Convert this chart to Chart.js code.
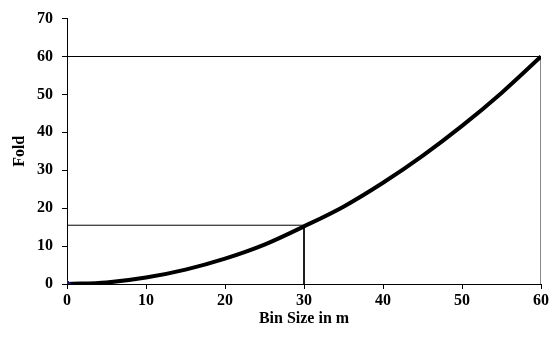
<!DOCTYPE html>
<html>
<head>
<meta charset="utf-8">
<script src="https://cdn.jsdelivr.net/npm/chart.js@4/dist/chart.umd.min.js"></script>
<style>
  html, body { margin: 0; padding: 0; background: #fff; }
  #wrap { width: 551px; height: 347px; }
</style>
</head>
<body>
<div id="wrap"><canvas id="grafico" width="551" height="347"></canvas></div>
<script>
  // valores
  const binSize = [0, 5, 10, 15, 20, 25, 30, 35, 40, 45, 50, 55, 60];
  const fold = [0, 0.4, 1.7, 3.8, 6.7, 10.4, 15.2, 20.4, 26.7, 33.8, 41.7, 50.4, 60];
  const xTicks = [0, 10, 20, 30, 40, 50, 60];
  const yTicks = [0, 10, 20, 30, 40, 50, 60, 70];
  // líneas de referencia
  const marcaAlta = { x: 60, y: 60 };
  const marcaMedia = { x: 30, y: 15.5 };

  const fuente = { family: "'Liberation Serif', 'Times New Roman', serif", size: 16, weight: "bold" };

  const ctx = document.getElementById("grafico").getContext("2d");

  new Chart(ctx, {
    type: "line",
    data: {
      datasets: [
        {
          data: binSize.map((x, i) => ({ x: x, y: fold[i] })),
          borderColor: "#000",
          borderWidth: 4,
          pointRadius: 0,
          cubicInterpolationMode: "monotone",
          order: 0
        },
        {
          data: [{ x: 0, y: marcaAlta.y }, { x: marcaAlta.x, y: marcaAlta.y }],
          borderColor: "#000",
          borderWidth: 1,
          pointRadius: 0,
          order: 1
        },
        {
          data: [{ x: marcaAlta.x, y: marcaAlta.y }, { x: marcaAlta.x, y: 0 }],
          borderColor: "#777",
          borderWidth: 1,
          pointRadius: 0,
          order: 1
        },
        {
          data: [{ x: 0, y: marcaMedia.y }, { x: marcaMedia.x, y: marcaMedia.y }, { x: marcaMedia.x, y: 0 }],
          borderColor: "#000",
          borderWidth: 1,
          pointRadius: 0,
          order: 1
        },
        {
          data: [{ x: 0, y: 0 }],
          showLine: false,
          pointStyle: "rectRot",
          pointRadius: 4,
          backgroundColor: "#1a1a6e",
          borderColor: "#1a1a6e",
          order: -1
        }
      ]
    },
    options: {
      responsive: false,
      animation: false,
      layout: { padding: { top: 17, right: 10, left: 0, bottom: 0 } },
      plugins: { legend: { display: false }, tooltip: { enabled: false } },
      scales: {
        x: {
          type: "linear",
          min: 0,
          max: 60,
          afterBuildTicks: s => { s.ticks = xTicks.map(v => ({ value: v })); },
          afterFit: s => { s.height = 63; },
          grid: { drawOnChartArea: false, drawTicks: true, tickLength: 5, color: "#000" },
          border: { display: true, color: "#000", width: 1 },
          ticks: { color: "#000", font: fuente, padding: 2, maxRotation: 0 },
          title: { display: true, text: "Bin Size in m", color: "#000", font: fuente, padding: { top: 0, bottom: 19 } }
        },
        y: {
          type: "linear",
          min: 0,
          max: 70,
          afterBuildTicks: s => { s.ticks = yTicks.map(v => ({ value: v })); },
          afterFit: s => { s.width = 67; },
          grid: { drawOnChartArea: false, drawTicks: true, tickLength: 5, color: "#000" },
          border: { display: true, color: "#000", width: 1 },
          ticks: { color: "#000", font: fuente, padding: 9 },
          title: { display: true, text: "Fold", color: "#000", font: fuente, padding: { top: 10, bottom: 0 } }
        }
      }
    }
  });
</script>
</body>
</html>
